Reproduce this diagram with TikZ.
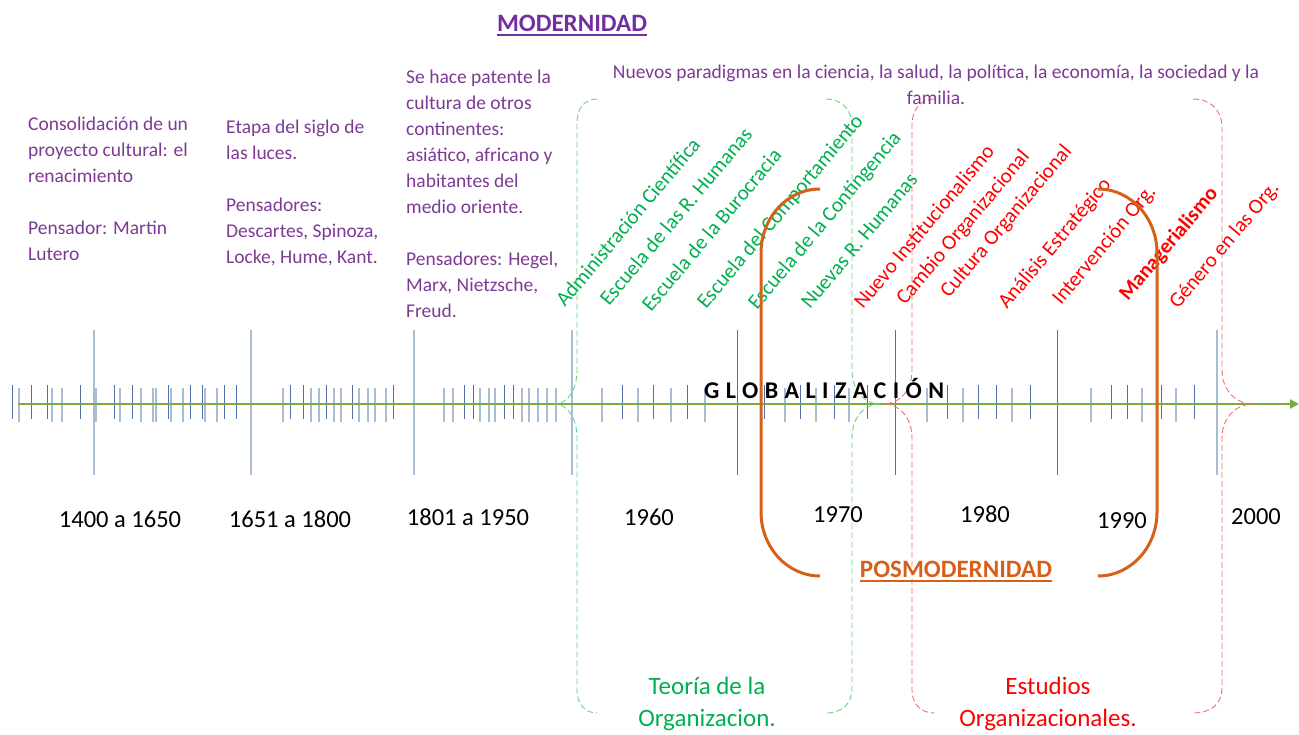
\documentclass[tikz,border=0pt]{standalone}
\usepackage{fontspec}
\setmainfont{Carlito}
\newfontfamily\globfont[LetterSpace=27]{Carlito}
\usetikzlibrary{arrows.meta}
\definecolor{purp}{RGB}{112,48,160}
\definecolor{purptext}{RGB}{125,58,148}
\definecolor{axisgreen}{RGB}{122,172,62}
\definecolor{tickdark}{RGB}{80,112,168}
\definecolor{ticklight}{RGB}{168,188,214}
\definecolor{labgreen}{RGB}{0,176,80}
\definecolor{labred}{RGB}{255,0,0}
\definecolor{dashgreen}{RGB}{110,210,130}
\definecolor{dashred}{RGB}{245,110,110}
\definecolor{orng}{RGB}{214,96,26}
\begin{document}
\begin{tikzpicture}[x=1pt,y=-1pt,
  tickd/.style={draw=tickdark, line width=0.9pt},
  tickl/.style={draw=ticklight, line width=1.3pt},
  purpblock/.style={anchor=north west, align=left, inner sep=0pt, text=purptext, font=\fontsize{19.5}{26}\selectfont},
  rotlab/.style={anchor=base west, rotate=50, inner sep=0pt, font=\fontsize{21}{25}\selectfont},
  yearlab/.style={anchor=base, inner sep=0pt, font=\fontsize{24.5}{30}\selectfont},
  titlelab/.style={anchor=base, inner sep=0pt, font=\fontsize{25}{30}\selectfont\bfseries},
  bottomlab/.style={anchor=base, inner sep=0pt, align=center, font=\fontsize{25}{32}\selectfont},
  brackg/.style={draw=dashgreen, dash pattern=on 6pt off 3pt, line width=0.9pt},
  brackr/.style={draw=dashred, dash pattern=on 6pt off 3pt, line width=0.9pt},
  orbrack/.style={draw=orng, line width=3pt}
]
\useasboundingbox (0,0) rectangle (1299,734);

% ---- ticks
\foreach \x in {94,251,414,572,1217} \draw[tickl] (\x,330) -- (\x,475);
\foreach \x in {737,895,1057} \draw[tickd] (\x,330) -- (\x,475);
\foreach \x in {12,31,47,80,114,132,168,190,202,224,236,290,303,326,352,393,464,473,504,513,622,653,687,764,800,834,867,947,978,996,1030,1111,1127,1161,1194}
  \draw[tickd] (\x,385) -- (\x,419);
\foreach \x in {19,52,62,96,120,141,153,156,171,183,205,217,283,311,319,334,341,359,368,375,386,444,453,480,489,495,522,529,538,547,556,602,638,671,705,785,816,849,927,963,1012,1091,1142,1176}
  \draw[tickl] (\x,388) -- (\x,422);

% ---- axis
\coordinate (axL) at (18,404);
\coordinate (axR) at (1299,404);
\draw[axisgreen, line width=2.6pt, -{Triangle[length=9pt,width=9pt]}] (axL) -- (axR);

% ---- dashed braces
\draw[brackg] (597,99) .. controls (585,99) and (577,108) .. (577,122) -- (577,370) .. controls (577,392) and (566,404) .. (555,404) .. controls (566,404) and (577,416) .. (577,438) -- (577,690) .. controls (577,704) and (585,713) .. (597,713);
\draw[brackg] (826,99) .. controls (842,99) and (852,110) .. (852,126) -- (852,370) .. controls (852,392) and (866,404) .. (879,404) .. controls (866,404) and (852,416) .. (852,438) -- (852,688) .. controls (852,704) and (842,713) .. (826,713);
\draw[brackr] (934,99) .. controls (921,99) and (912,110) .. (912,124) -- (912,370) .. controls (912,392) and (898,404) .. (884,404) .. controls (898,404) and (912,416) .. (912,438) -- (912,690) .. controls (912,704) and (921,713) .. (934,713);
\draw[brackr] (1193,99) .. controls (1211,99) and (1222,111) .. (1222,127) -- (1222,370) .. controls (1222,392) and (1238,404) .. (1252,404) .. controls (1238,404) and (1222,416) .. (1222,438) -- (1222,688) .. controls (1222,704) and (1211,713) .. (1193,713);

% ---- titles
\node[titlelab, text=purp] (modern) at (572,31) {MODERNIDAD};
\draw[purp, line width=1.5pt] ([yshift=-4pt]modern.base west) -- ([yshift=-4pt]modern.base east);
\node[titlelab, text=orng] (posmod) at (956,577) {POSMODERNIDAD};
\draw[orng, line width=1.5pt] ([yshift=-4pt]posmod.base west) -- ([yshift=-4pt]posmod.base east);

% ---- purple blocks
\node[purpblock] (b1) at (28,111.8) {\strut Consolidación de un\\proyecto cultural: el\\renacimiento\\[26pt]Pensador: Martin\\Lutero};
\node[purpblock] (b2) at (226,114.8) {\strut Etapa del siglo de\\las luces.\\[26pt]Pensadores:\\Descartes, Spinoza,\\Locke, Hume, Kant.};
\node[purpblock] (b3) at (406,64.8) {\strut Se hace patente la\\cultura de otros\\continentes:\\asiático, africano y\\habitantes del\\medio oriente.\\[26pt]Pensadores: Hegel,\\Marx, Nietzsche,\\Freud.};
\node[anchor=base, align=center, inner sep=0pt, text=purptext, font=\fontsize{19.5}{26}\selectfont] (paradig) at (936,104) {Nuevos paradigmas en la ciencia, la salud, la política, la economía, la sociedad y la\\familia.};

% ---- rotated labels
\node[rotlab, text=labgreen] (g1) at (565,308) {Administración Científica};
\node[rotlab, text=labgreen] (g2) at (609,307) {Escuela de las R. Humanas};
\node[rotlab, text=labgreen] (g3) at (651,313) {Escuela de la Burocracia};
\node[rotlab, text=labgreen] (g4) at (706,310) {Escuela del Comportamiento};
\node[rotlab, text=labgreen] (g5) at (757,311) {Escuela de la Contingencia};
\node[rotlab, text=labgreen] (g6) at (810,310) {Nuevas R. Humanas};
\node[rotlab, text=labred] (r1) at (863,310) {Nuevo Institucionalismo};
\node[rotlab, text=labred] (r2) at (905,306) {Cambio Organizacional};
\node[rotlab, text=labred] (r3) at (949,299) {Cultura Organizacional};
\node[rotlab, text=labred] (r4) at (1007,310) {Análisis Estratégico};
\node[rotlab, text=labred] (r5) at (1061,306) {Intervención Org.};
\node[rotlab, text=labred, font=\fontsize{21}{25}\selectfont\bfseries] (r6) at (1128,302) {Managerialismo};
\node[rotlab, text=labred] (r7) at (1178,310) {Género en las Org.};

% ---- globalizacion
\node[anchor=base west, inner sep=0pt, font=\fontsize{24}{28}\globfont\bfseries] (glob) at (704,398) {GLOBALIZACIÓN};

% ---- years
\node[yearlab] (y1) at (120,527) {1400 a 1650};
\node[yearlab] (y2) at (290,527) {1651 a 1800};
\node[yearlab] (y3) at (468,525) {1801 a 1950};
\node[yearlab] (y4) at (649,525) {1960};
\node[yearlab] (y5) at (838,522) {1970};
\node[yearlab] (y6) at (985,522) {1980};
\node[yearlab] (y7) at (1122,528) {1990};
\node[yearlab] (y8) at (1256,524) {2000};

% ---- bottom labels
\node[bottomlab, text=labgreen] (teo) at (707,726) {Teoría de la\\Organizacion.};
\node[bottomlab, text=labred] (est) at (1048,726) {Estudios\\Organizacionales.};

% ---- orange brackets
\draw[orbrack] (820,189) .. controls (787,189) and (761,218) .. (761,253) -- (761,512) .. controls (761,547) and (787,576) .. (820,576);
\draw[orbrack] (1098,189) .. controls (1131,189) and (1157,218) .. (1157,253) -- (1157,512) .. controls (1157,547) and (1131,576) .. (1098,576);
\end{tikzpicture}
\end{document}
